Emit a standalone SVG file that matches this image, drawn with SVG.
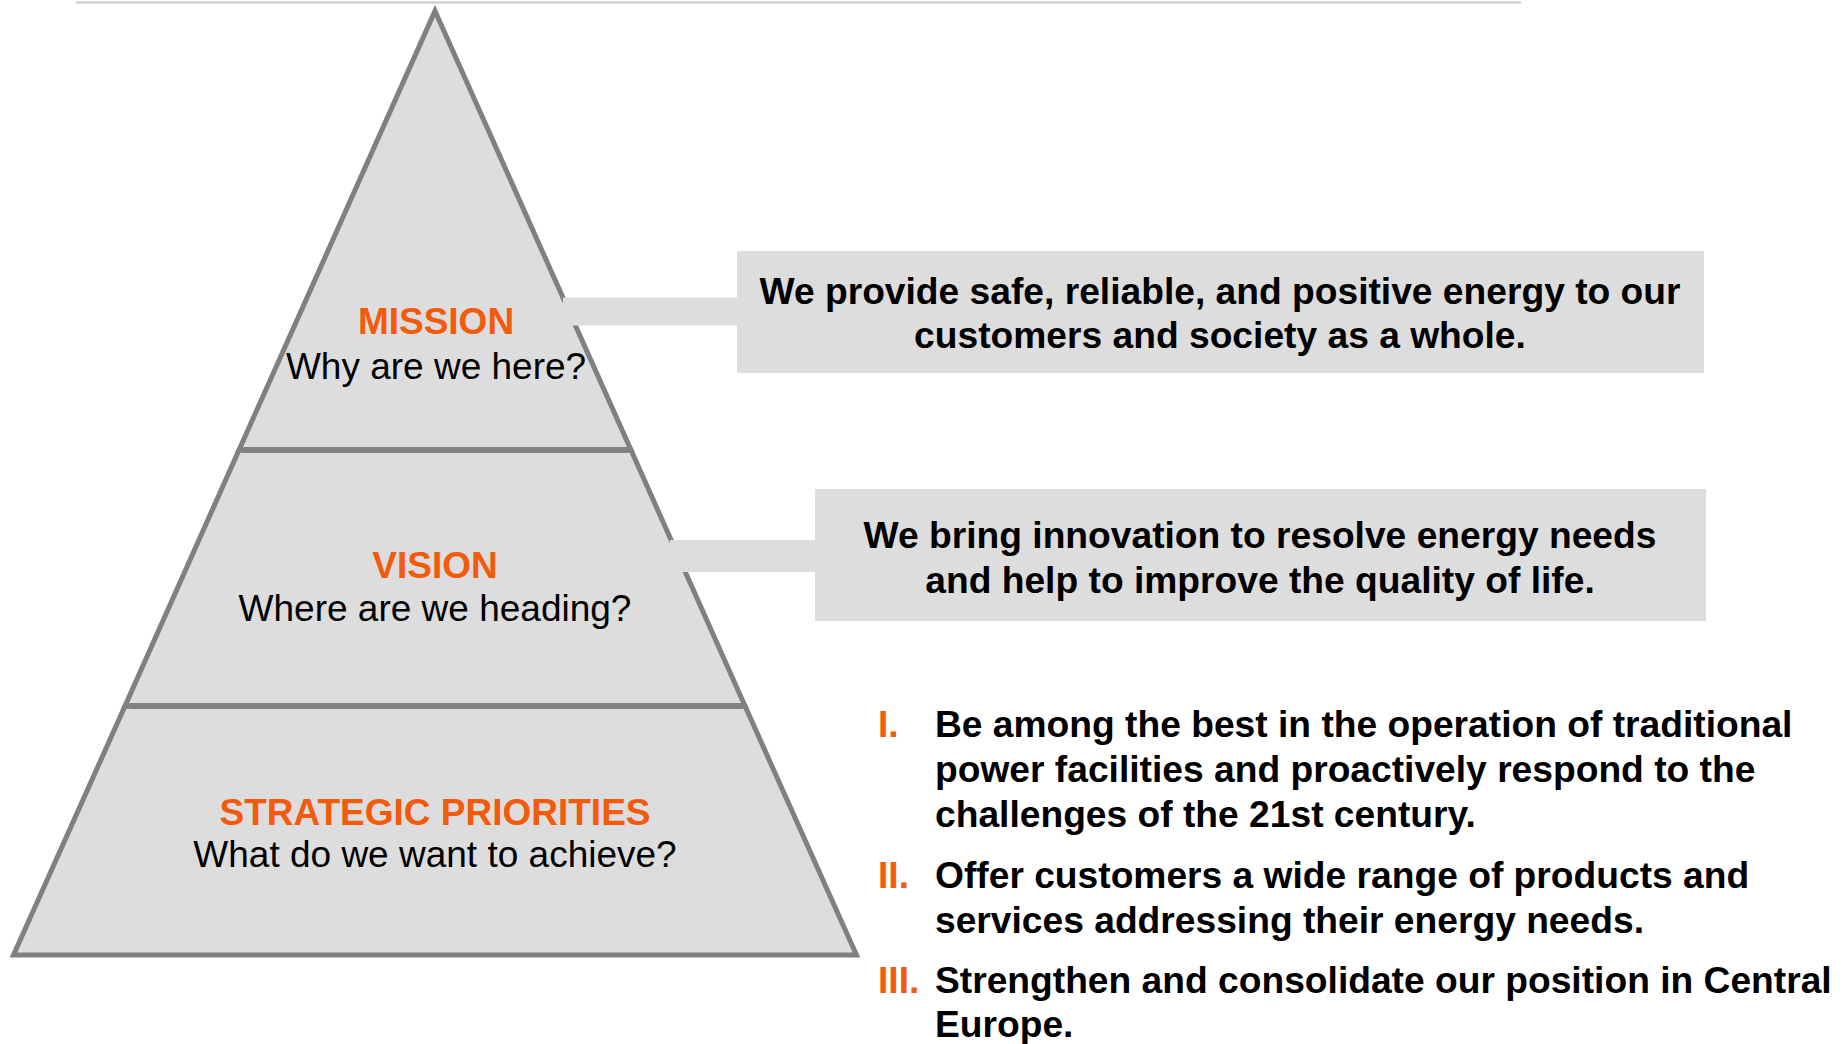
<svg xmlns="http://www.w3.org/2000/svg" width="1845" height="1044" viewBox="0 0 1845 1044">
<style>
.tier{fill:#dddddd;stroke:#808080;stroke-width:5;stroke-linejoin:miter}
.div{stroke:#808080;stroke-width:6}
.box{fill:#dddddd}
.bar{fill:#dddddd}
.head{font-family:"Liberation Sans",Arial,sans-serif;font-weight:bold;font-size:37px;fill:#f25a0c;text-anchor:middle}
.sub{font-family:"Liberation Sans",Arial,sans-serif;font-size:37px;fill:#000;text-anchor:middle}
.bt{font-family:"Liberation Sans",Arial,sans-serif;font-weight:bold;font-size:37.2px;fill:#000;text-anchor:middle}
.li{font-family:"Liberation Sans",Arial,sans-serif;font-weight:bold;font-size:37.2px;fill:#000}
.num{font-family:"Liberation Sans",Arial,sans-serif;font-weight:bold;font-size:37.2px;fill:#f25a0c}
</style>
<rect width="1845" height="1044" fill="#ffffff"/>
<line x1="76" y1="2.5" x2="1521" y2="2.5" stroke="#c8c8c8" stroke-width="2"/>
<g id="strategic">
<polygon class="tier" points="125,706 745,706 856.5,955 13.5,955"/>
<text class="head" x="435" y="825">STRATEGIC PRIORITIES</text>
<text class="sub" x="435" y="867">What do we want to achieve?</text>
</g>
<g id="vision">
<polygon class="tier" points="239,450 631,450 745,706 125,706"/>
<text class="head" x="435" y="578">VISION</text>
<text class="sub" x="435" y="621">Where are we heading?</text>
</g>
<g id="mission">
<polygon class="tier" points="435,11 631,450 239,450"/>
<text class="head" x="436" y="334">MISSION</text>
<text class="sub" x="436" y="379">Why are we here?</text>
</g>
<line class="div" x1="244" y1="450" x2="627" y2="450"/>
<line class="div" x1="130" y1="706" x2="741" y2="706"/>
<g id="connectors">
<rect class="bar" x="563" y="297.5" width="177" height="28"/>
<rect class="bar" x="670" y="540" width="148" height="32"/>
</g>
<g id="mission-statement">
<rect class="box" x="737" y="251" width="967" height="122"/>
<text class="bt" x="1220" y="304">We provide safe, reliable, and positive energy to our</text>
<text class="bt" x="1220" y="348">customers and society as a whole.</text>
</g>
<g id="vision-statement">
<rect class="box" x="815" y="489" width="891" height="132"/>
<text class="bt" x="1260" y="548">We bring innovation to resolve energy needs</text>
<text class="bt" x="1260" y="593">and help to improve the quality of life.</text>
</g>
<g id="priorities">
<text class="num" x="878" y="737">I.</text>
<text class="li" x="935" y="737">Be among the best in the operation of traditional</text>
<text class="li" x="935" y="782">power facilities and proactively respond to the</text>
<text class="li" x="935" y="827">challenges of the 21st century.</text>
<text class="num" x="878" y="888">II.</text>
<text class="li" x="935" y="888">Offer customers a wide range of products and</text>
<text class="li" x="935" y="933">services addressing their energy needs.</text>
<text class="num" x="878" y="993">III.</text>
<text class="li" x="935" y="993">Strengthen and consolidate our position in Central</text>
<text class="li" x="935" y="1037">Europe.</text>
</g>
</svg>
